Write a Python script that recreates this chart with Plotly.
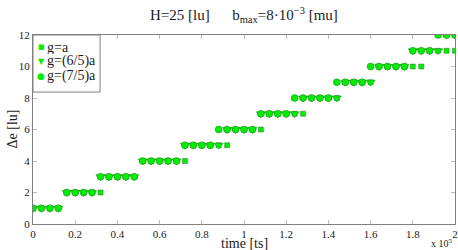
import plotly.graph_objects as go

time_ts = [0, 4000, 8000, 12000, 16000, 20000, 24000, 28000, 32000, 36000,
           40000, 44000, 48000, 52000, 56000, 60000, 64000, 68000, 72000, 76000,
           80000, 84000, 88000, 92000, 96000, 100000, 104000, 108000, 112000, 116000,
           120000, 124000, 128000, 132000, 136000, 140000, 144000, 148000, 152000, 156000,
           160000, 164000, 168000, 172000, 176000, 180000, 184000, 188000, 192000, 196000,
           200000]

de_g_a = [1, 1, 1, 1, 2, 2, 2, 2, 2, 3,
          3, 3, 3, 4, 4, 4, 4, 4, 4, 5,
          5, 5, 5, 5, 6, 6, 6, 6, 7, 7,
          7, 7, 7, 8, 8, 8, 8, 9, 9, 9,
          9, 10, 10, 10, 10, 10, 10, 11, 11, 11,
          11]

de_g_65 = [1, 1, 1, 1, 2, 2, 2, 2, 3, 3,
           3, 3, 3, 4, 4, 4, 4, 4, 5, 5,
           5, 5, 5, 6, 6, 6, 6, 7, 7, 7,
           7, 7, 8, 8, 8, 8, 8, 9, 9, 9,
           9, 10, 10, 10, 10, 11, 11, 11, 11, 12,
           12]

de_g_75 = [1, 1, 1, 1, 2, 2, 2, 2, 3, 3,
           3, 3, 3, 4, 4, 4, 4, 4, 5, 5,
           5, 5, 6, 6, 6, 6, 6, 7, 7, 7,
           7, 8, 8, 8, 8, 8, 9, 9, 9, 9,
           10, 10, 10, 10, 10, 11, 11, 11, 12, 12,
           12]

series_names = ["g=a", "g=(6/5)a", "g=(7/5)a"]
legend_glyphs = ["■", "▼", "●"]
legend_glyph_sizes = [7, 8, 9]
x_tick_vals = [0, 20000, 40000, 60000, 80000, 100000, 120000, 140000, 160000, 180000, 200000]
x_tick_text = ["0", "0.2", "0.4", "0.6", "0.8", "1", "1.2", "1.4", "1.6", "1.8", "2"]
y_tick_vals = [0, 2, 4, 6, 8, 10, 12]

SERIF = "Liberation Serif, Times New Roman, DejaVu Serif, serif"
GREEN = "#00ee00"
EDGE = "#2f7a2f"
AXC = "#808080"
TXT = "#1a1a1a"

fig = go.Figure()
fig.add_trace(go.Scatter(x=time_ts, y=de_g_a, mode="markers", name=series_names[0],
                         marker=dict(symbol="square", size=5, color=GREEN,
                                     line=dict(color=EDGE, width=0.5))))
fig.add_trace(go.Scatter(x=time_ts, y=de_g_65, mode="markers", name=series_names[1],
                         marker=dict(symbol="triangle-down", size=8, color=GREEN,
                                     line=dict(color=EDGE, width=0.5))))
fig.add_trace(go.Scatter(x=time_ts, y=de_g_75, mode="markers", name=series_names[2],
                         marker=dict(symbol="circle", size=7, color=GREEN,
                                     line=dict(color=EDGE, width=0.5))))

fig.update_layout(
    width=458, height=250,
    margin=dict(l=33, r=3, t=35, b=26, autoexpand=False),
    paper_bgcolor="white", plot_bgcolor="white",
    font=dict(family=SERIF, size=11, color=TXT),
    showlegend=False,
)
fig.update_xaxes(range=[0, 200000], tickvals=x_tick_vals, ticktext=x_tick_text,
                 showline=True, linecolor=AXC, linewidth=1, mirror="ticks",
                 ticks="inside", ticklen=4, tickcolor="#bbbbbb", showgrid=False, zeroline=False,
                 automargin=False,
                 tickfont=dict(family=SERIF, size=11, color=TXT))
fig.update_yaxes(range=[0, 12], tickvals=y_tick_vals,
                 showline=True, linecolor=AXC, linewidth=1, mirror="ticks",
                 ticks="inside", ticklen=4, tickcolor="#bbbbbb", showgrid=False, zeroline=False,
                 automargin=False,
                 tickfont=dict(family=SERIF, size=11, color=TXT))

# legend box (drawn manually to match the compact reference legend)
fig.add_shape(type="rect", xref="paper", yref="paper", x0=0.0, x1=0.159, y0=0.698, y1=1.0,
              line=dict(color=AXC, width=1), fillcolor="white", layer="above")
legend_rows_y = [0.935, 0.86, 0.783]
for name, glyph, gsize, ly in zip(series_names, legend_glyphs, legend_glyph_sizes, legend_rows_y):
    fig.add_annotation(text=glyph, xref="paper", yref="paper", x=0.019, y=ly,
                       xanchor="center", yanchor="middle", showarrow=False, height=12,
                       font=dict(family="DejaVu Sans", size=gsize, color=GREEN))
    fig.add_annotation(text=name, xref="paper", yref="paper", x=0.029, y=ly,
                       xanchor="left", yanchor="middle", showarrow=False, height=14,
                       font=dict(family=SERIF, size=14, color=TXT))

fig.add_annotation(text="H=25 [lu]&nbsp;&nbsp;&nbsp;&nbsp;&nbsp; b<sub>max</sub>=8·10<sup>−3</sup> [mu]",
                   xref="paper", yref="paper", x=0.5, y=1.0, yshift=20,
                   xanchor="center", yanchor="middle", showarrow=False,
                   font=dict(family=SERIF, size=15, color=TXT))
fig.add_annotation(text="time [ts]", xref="paper", yref="paper", x=0.5, y=0, yshift=-19,
                   xanchor="center", yanchor="middle", showarrow=False,
                   font=dict(family=SERIF, size=14, color=TXT))
fig.add_annotation(text="Δe [lu]", xref="paper", yref="paper", x=0, xshift=-21, y=0.5,
                   xanchor="center", yanchor="middle", showarrow=False, textangle=-90,
                   font=dict(family=SERIF, size=14, color=TXT))
fig.add_annotation(text="x 10<sup>5</sup>", xref="paper", yref="paper", x=1.0, y=0, yshift=-19,
                   xanchor="right", yanchor="middle", showarrow=False,
                   font=dict(family=SERIF, size=10, color=TXT))
fig.write_html("out.html", config={"displayModeBar": False},
               post_script="document.body.style.margin='0';document.body.style.padding='0';")
